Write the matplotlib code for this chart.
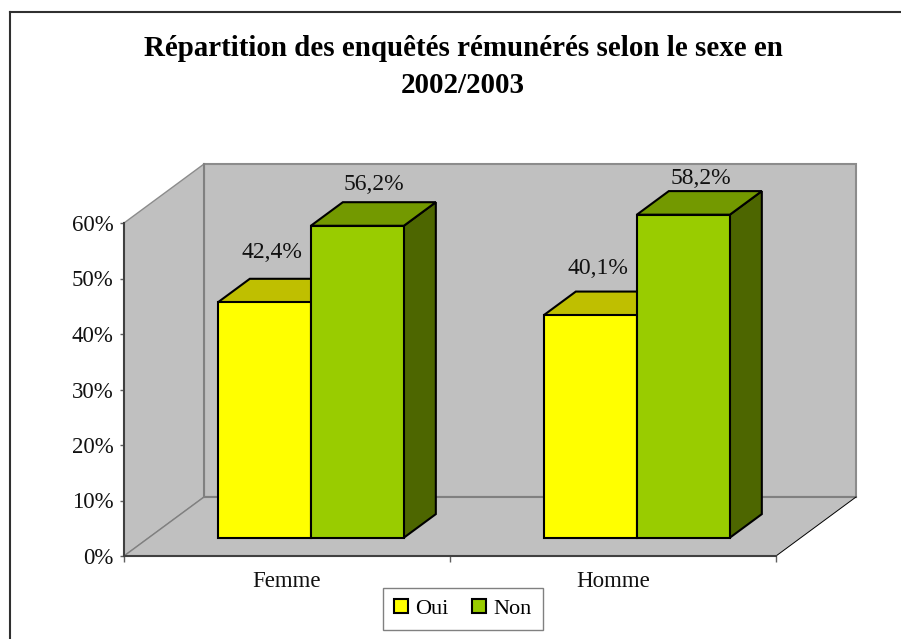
import matplotlib
matplotlib.use('Agg')
import matplotlib.pyplot as plt
from matplotlib.patches import Polygon, Patch
from matplotlib.lines import Line2D

# ---- data ----
categories = ['Femme', 'Homme']
oui = [42.4, 40.1]
non = [56.2, 58.2]
labels_oui = ['42,4%', '40,1%']
labels_non = ['56,2%', '58,2%']
yticks = [0, 10, 20, 30, 40, 50, 60]

# ---- layout (pixels of the 901x639 picture) ----
W, H = 901, 639
X0, X1 = 124, 776    # front edge of the floor
Y0, Y60 = 556, 223   # 0% and 60% on the left wall
DX = 80 / 326        # depth of the box, in category units
DY = 59 / 5.55       # depth of the box, in percent units
BAR_W = 93 / 326
BAR_D0, BAR_D1 = 0.31, 0.71  # depth where the bars start and stop
DECAL = -0.003       # small shift of the bar groups

plt.rcParams['font.family'] = ['Liberation Serif', 'DejaVu Serif']

fig = plt.figure(figsize=(W / 100, H / 100), dpi=100)
ax = fig.add_axes([X0 / W, 1 - Y0 / H, (X1 - X0) / W, (Y0 - Y60) / H])
ax.set_xlim(0, 2)
ax.set_ylim(0, 60)
ax.patch.set_visible(False)
for s in ['top', 'right']:
    ax.spines[s].set_visible(False)
for s in ['left', 'bottom']:
    ax.spines[s].set_color('#404040')
    ax.spines[s].set_linewidth(1.5)
    ax.spines[s].set_zorder(6)


def proj(x, y, d):
    # oblique projection: d=0 front of the floor, d=1 back wall
    return x + d * DX, y + d * DY


def poly(points, face, edge, lw, z):
    ax.add_patch(Polygon(points, closed=True, facecolor=face, edgecolor=edge,
                         linewidth=lw, joinstyle='miter', clip_on=False, zorder=z))


# walls and floor
GRIS = '#C0C0C0'
poly([proj(0, 0, 1), proj(2, 0, 1), proj(2, 60, 1), proj(0, 60, 1)], GRIS, '#8C8C8C', 1.5, 1)
poly([proj(0, 0, 0), proj(0, 0, 1), proj(0, 60, 1), proj(0, 60, 0)], GRIS, '#8C8C8C', 1.0, 1)
poly([proj(0, 0, 0), proj(2, 0, 0), proj(2, 0, 1), proj(0, 0, 1)], GRIS, 'none', 0, 2)
ax.plot(*zip(proj(0, 0, 1), proj(2, 0, 1)), color='#808080', lw=1.5, zorder=3, clip_on=False)
ax.plot(*zip(proj(0, 0, 1), proj(0, 60, 1)), color='#808080', lw=1.5, zorder=3, clip_on=False)
ax.plot(*zip(proj(0, 0, 0), proj(0, 0, 1)), color='#808080', lw=1.0, zorder=3, clip_on=False)
ax.plot(*zip(proj(2, 0, 0), proj(2, 0, 1)), color='black', lw=0.7, zorder=3, clip_on=False)


def barre3d(x, v, front, top, side, z):
    x1 = x + BAR_W
    poly([proj(x1, 0, BAR_D0), proj(x1, 0, BAR_D1), proj(x1, v, BAR_D1), proj(x1, v, BAR_D0)],
         side, 'black', 1.5, z)
    poly([proj(x, v, BAR_D0), proj(x1, v, BAR_D0), proj(x1, v, BAR_D1), proj(x, v, BAR_D1)],
         top, 'black', 1.5, z)
    poly([proj(x, 0, BAR_D0), proj(x1, 0, BAR_D0), proj(x1, v, BAR_D0), proj(x, v, BAR_D0)],
         front, 'black', 1.5, z + 0.1)


JAUNE = ('#FFFF00', '#BFBF00', '#808000')
VERT = ('#99CC00', '#739900', '#4D6600')

# offsets of the value labels in pixels, from the top of the front face
off_oui = [(8, 44), (8, 41)]
off_non = [(17, 36), (18, 31)]

for i in range(len(categories)):
    c = i + 0.5 + DECAL
    barre3d(c - BAR_W, oui[i], *JAUNE, 4 + i)
    barre3d(c, non[i], *VERT, 4.5 + i)
    x, y = proj(c - BAR_W / 2, oui[i], BAR_D0)
    ax.annotate(labels_oui[i], (x, y), xytext=off_oui[i], textcoords='offset pixels',
                ha='center', va='baseline', fontsize=17, color='#111111', zorder=8,
                annotation_clip=False)
    x, y = proj(c + BAR_W / 2, non[i], BAR_D0)
    ax.annotate(labels_non[i], (x, y), xytext=off_non[i], textcoords='offset pixels',
                ha='center', va='baseline', fontsize=17, color='#111111', zorder=8,
                annotation_clip=False)

# axes
ax.set_yticks(yticks)
ax.set_yticklabels([f'{t}%' for t in yticks], fontsize=16.5, color='#111111')
ax.set_xticks([0, 1, 2])
ax.set_xticklabels([])
ax.set_xticks([0.5, 1.5], minor=True)
ax.set_xticklabels(categories, minor=True, fontsize=16.5, color='#111111')
ax.tick_params(axis='x', which='minor', length=0, pad=11)
ax.tick_params(axis='x', which='major', length=4, width=1, color='#606060')
ax.tick_params(axis='y', which='major', length=3, width=1, color='#606060', pad=4.5)

# title
fig.text(463 / W, 1 - 67 / H, 'Répartition des enquêtés rémunérés selon le sexe en\n2002/2003',
         ha='center', va='center', fontsize=20.85, fontweight='bold', linespacing=1.47, color='black')

# legend
handles = [Patch(facecolor=JAUNE[0], edgecolor='black', linewidth=1.5, label='Oui'),
           Patch(facecolor=VERT[0], edgecolor='black', linewidth=1.5, label='Non')]
fig.legend(handles=handles, loc='center', bbox_to_anchor=(463 / W, 1 - 609 / H), ncol=2,
           fontsize=16, frameon=True, fancybox=False, framealpha=1, edgecolor='#808080',
           handlelength=0.6, handleheight=0.6, handletextpad=0.36, columnspacing=1.05,
           borderpad=0.5, borderaxespad=0)

# outer frame of the chart object: left and top only are in the picture
fig.add_artist(Line2D([10 / W, 10 / W], [0, 1 - 12 / H], color='#303030', lw=1.5))
fig.add_artist(Line2D([10 / W, 1], [1 - 12 / H, 1 - 12 / H], color='#303030', lw=1.5))

fig.savefig('out.png', dpi=100)
